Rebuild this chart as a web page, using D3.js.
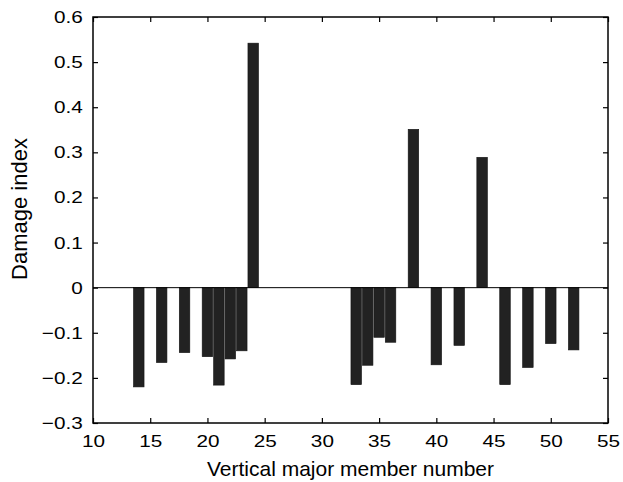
<!DOCTYPE html>
<html>
<head>
<meta charset="utf-8">
<script src="https://cdn.jsdelivr.net/npm/d3@7"></script>
<style>
  body { margin: 0; background: #fff; }
  text { font-family: "Liberation Sans", Arial, Helvetica, sans-serif; }
</style>
</head>
<body>
<script>
  var w = 623;
  var h = 482;
  var margin = {top: 17, right: 15, bottom: 59, left: 93};

  // member numbers and damage index values
  var members = [14, 16, 18, 20, 21, 22, 23, 24, 33, 34, 35, 36, 38, 40, 42, 44, 46, 48, 50, 52];
  var damage = [-0.220, -0.166, -0.144, -0.153, -0.216, -0.158, -0.140, 0.542,
                -0.215, -0.172, -0.110, -0.121, 0.351, -0.171, -0.128, 0.289,
                -0.215, -0.177, -0.124, -0.138];
  var xTicks = [10, 15, 20, 25, 30, 35, 40, 45, 50, 55];
  var yTicks = [-0.3, -0.2, -0.1, 0, 0.1, 0.2, 0.3, 0.4, 0.5, 0.6];

  var data = members.map(function(m, i){ return {m: m, v: damage[i]}; });

  var svg = d3.select("body").append("svg")
              .attr("width", w)
              .attr("height", h);

  var x = d3.scaleLinear().domain([10, 55]).range([margin.left, w - margin.right]);
  var y = d3.scaleLinear().domain([-0.3, 0.6]).range([h - margin.bottom, margin.top]);

  var barW = 0.92;

  svg.selectAll("rect.bar")
     .data(data)
     .enter()
     .append("rect")
     .attr("class", "bar")
     .attr("x", function(d){ return x(d.m - barW/2); })
     .attr("width", function(d){ return x(d.m + barW/2) - x(d.m - barW/2); })
     .attr("y", function(d){ return y(Math.max(0, d.v)); })
     .attr("height", function(d){ return Math.abs(y(d.v) - y(0)); })
     .attr("fill", "#222")
     .attr("stroke", "#111")
     .attr("stroke-width", 0.6);

  // zero line
  svg.append("line")
     .attr("x1", x(10)).attr("x2", x(55))
     .attr("y1", y(0)).attr("y2", y(0))
     .attr("stroke", "#000")
     .attr("stroke-width", 1);

  var fmt = function(d){ return d === 0 ? "0" : d3.format(".1f")(d).replace("-", "\u2013"); };
  var tickLen = 5;
  var stretch = 1.22;   // tick labels in the figure are wider than they are tall

  var gx = svg.append("g")
              .attr("transform", "translate(0," + y(-0.3) + ")")
              .call(d3.axisBottom(x).tickValues(xTicks).tickSize(-tickLen).tickPadding(12));
  var gxTop = svg.append("g")
              .attr("transform", "translate(0," + y(0.6) + ")")
              .call(d3.axisTop(x).tickValues(xTicks).tickSize(-tickLen).tickFormat(""));
  var gy = svg.append("g")
              .attr("transform", "translate(" + x(10) + ",0)")
              .call(d3.axisLeft(y).tickValues(yTicks).tickSize(-tickLen).tickFormat(fmt));
  var gyR = svg.append("g")
              .attr("transform", "translate(" + x(55) + ",0)")
              .call(d3.axisRight(y).tickValues(yTicks).tickSize(-tickLen).tickFormat(""));

  [gx, gxTop, gy, gyR].forEach(function(g){
    g.select(".domain").remove();
    g.selectAll("line").attr("stroke", "#000").attr("stroke-width", 1.2);
    g.selectAll("text").attr("font-size", "17px").attr("fill", "#000")
     .style("font-family", "'Liberation Sans', Arial, sans-serif");
  });
  gx.selectAll("text").attr("transform", "scale(" + stretch + ",1)");
  gy.selectAll("text").attr("x", -10.3 / stretch).attr("transform", "scale(" + stretch + ",1)");

  // frame
  svg.append("rect")
     .attr("x", x(10)).attr("y", y(0.6))
     .attr("width", x(55) - x(10)).attr("height", y(-0.3) - y(0.6))
     .attr("fill", "none")
     .attr("stroke", "#000")
     .attr("stroke-width", 1.5);

  svg.append("text")
     .attr("x", (x(10) + x(55)) / 2)
     .attr("y", 476)
     .attr("text-anchor", "middle")
     .attr("font-size", "21px")
     .text("Vertical major member number");

  svg.append("text")
     .attr("transform", "translate(26.5," + 209 + ") rotate(-90)")
     .attr("text-anchor", "middle")
     .attr("font-size", "22px")
     .text("Damage index");
</script>
</body>
</html>
